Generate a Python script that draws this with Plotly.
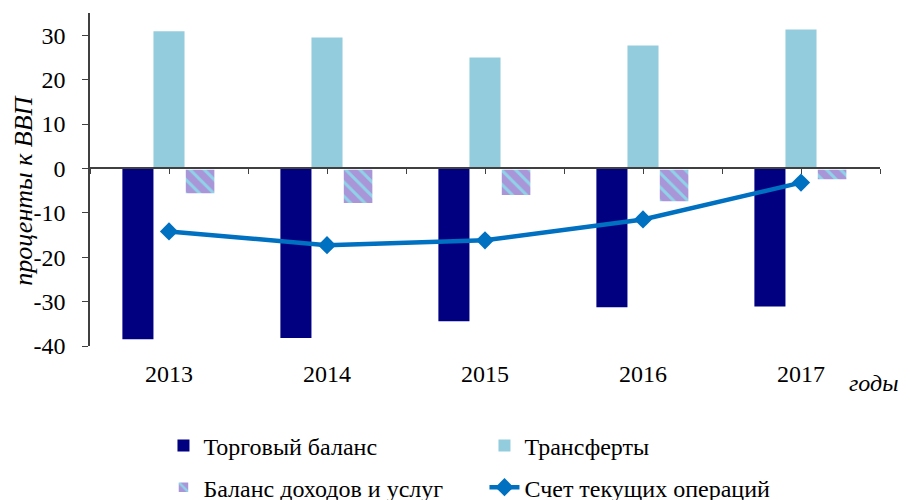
import plotly.graph_objects as go

years = ["2013", "2014", "2015", "2016", "2017"]
trade_balance = [-38.5, -38.2, -34.4, -31.3, -31.1]
transfers = [30.9, 29.5, 25.0, 27.7, 31.3]
income_services = [-5.9, -8.1, -6.3, -7.7, -2.7]
current_account = [-14.2, -17.3, -16.2, -11.5, -3.2]
y_ticks = [-40, -30, -20, -10, 0, 10, 20, 30]
y_tick_text = ["-40", "-30", "-20", "-10", "0", "10", "20", "30"]

FAM = "Liberation Serif"
F = dict(family=FAM, size=24, color="black")
FT = dict(family=FAM, size=26, color="black")
AX = "#404040"
xs = list(range(len(years)))

fig = go.Figure()
fig.add_trace(go.Bar(x=xs, y=trade_balance, name="Торговый баланс",
                     marker=dict(color="#000080", line=dict(width=0)),
                     legend="legend"))
fig.add_trace(go.Bar(x=xs, y=transfers, name="Трансферты",
                     marker=dict(color="#93cddd", line=dict(width=0)),
                     legend="legend"))
fig.add_trace(go.Bar(x=xs, y=income_services, name="Баланс доходов и услуг",
                     marker=dict(color="#a996d8", line=dict(width=2.5, color="white"),
                                 pattern=dict(shape="\\", fgcolor="#8fd3e8",
                                              bgcolor="#a996d8", size=10, solidity=0.3)),
                     legend="legend2"))
fig.add_trace(go.Scatter(x=xs, y=current_account, name="Счет текущих операций",
                         mode="lines+markers",
                         line=dict(color="#0070c0", width=4.5),
                         marker=dict(symbol="diamond", size=14, color="#0070c0"),
                         legend="legend2"))

half = [i * 0.5 - 0.5 for i in range(2 * len(years) + 1)]

fig.update_layout(
    template="none",
    width=910, height=500,
    margin=dict(l=82, r=38, t=5, b=162, autoexpand=False),
    paper_bgcolor="white", plot_bgcolor="white",
    font=F,
    barmode="group", bargap=0.41, bargroupgap=0,
    showlegend=True,
    xaxis=dict(range=[-0.5, 4.5], tickvals=xs, ticktext=years, tickfont=F,
               showline=False, ticks="", showgrid=False, zeroline=False,
               ticklabelstandoff=11, automargin=False),
    xaxis2=dict(range=[-0.5, 4.5], overlaying="x", anchor="free",
                position=40 / 75, tickvals=half, ticks="outside", ticklen=5,
                tickcolor=AX, showticklabels=False, showline=True,
                linecolor=AX, linewidth=1.5, showgrid=False, zeroline=False,
                side="bottom", automargin=False),
    yaxis=dict(range=[-40, 35], tickvals=y_ticks, ticktext=y_tick_text,
               tickfont=F, showline=True, ticklabelstandoff=12,
               linecolor=AX, linewidth=1.5, ticks="outside", ticklen=6,
               tickcolor=AX, showgrid=False, zeroline=False, automargin=False),
    legend=dict(orientation="h", x=0.093, y=-0.30, xanchor="left", yanchor="middle",
                entrywidth=276, entrywidthmode="pixels", font=F,
                traceorder="normal", bgcolor="rgba(0,0,0,0)"),
    legend2=dict(orientation="h", x=0.093, y=-0.425, xanchor="left", yanchor="middle",
                 entrywidth=276, entrywidthmode="pixels", font=F,
                 traceorder="normal", bgcolor="rgba(0,0,0,0)"),
    annotations=[
        dict(text="<i>годы</i>", xref="paper", yref="paper",
             x=1.025, y=-0.111, xanchor="right", yanchor="middle",
             showarrow=False, font=F),
        dict(text="<i>проценты к ВВП</i>", xref="paper", yref="paper",
             x=-0.084, y=0.468, xanchor="center", yanchor="middle",
             textangle=-90, showarrow=False, font=FT),
    ],
)
fig.add_trace(go.Scatter(x=[None], y=[None], xaxis="x2", showlegend=False,
                         hoverinfo="skip"))

fig.write_html("out.html")
